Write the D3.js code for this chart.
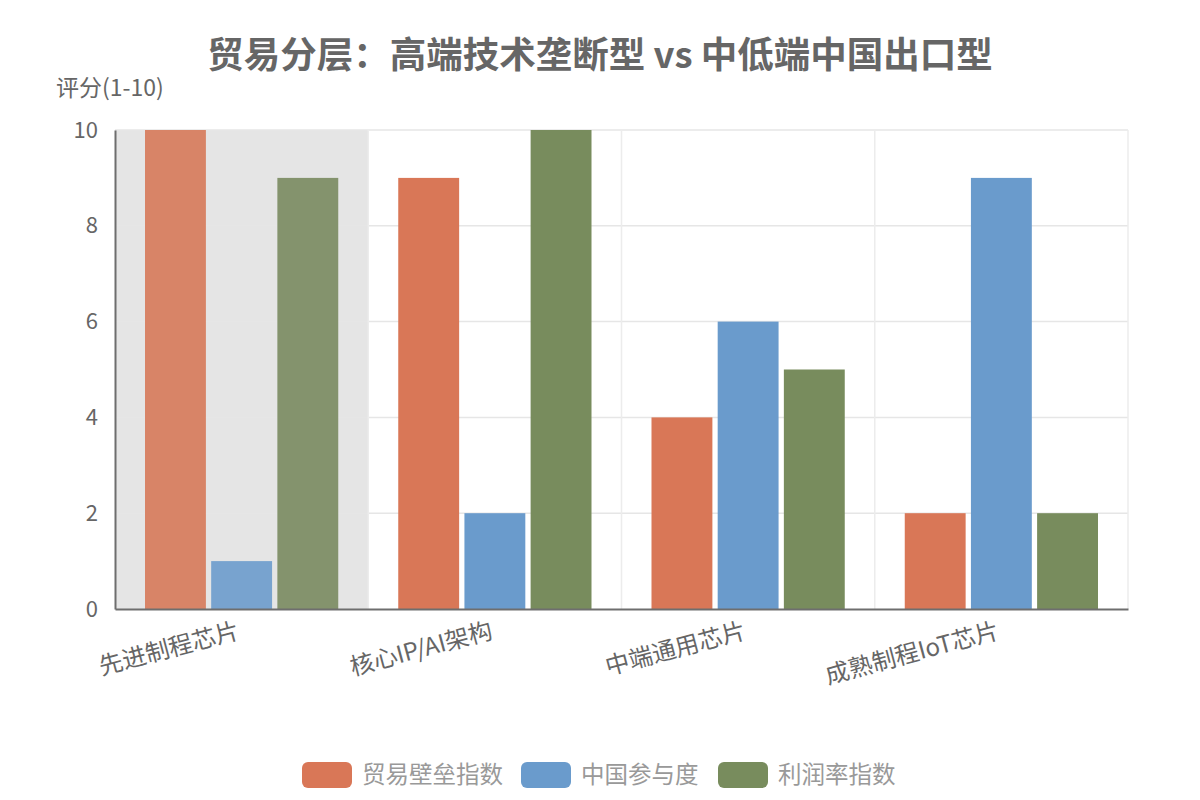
<!DOCTYPE html>
<html>
<head>
<meta charset="utf-8">
<script src="https://cdn.jsdelivr.net/npm/d3@7"></script>
<style>
  body { margin: 0; background: #fff; }
  svg { font-family: "Noto Sans CJK SC", "Noto Sans", sans-serif; }
</style>
</head>
<body>
<svg width="1200" height="800"></svg>
<script>
const categories = ["先进制程芯片", "核心IP/AI架构", "中端通用芯片", "成熟制程IoT芯片"];
const seriesNames = ["贸易壁垒指数", "中国参与度", "利润率指数"];
const barrier = [10, 9, 4, 2];
const china = [1, 2, 6, 9];
const profit = [9, 10, 5, 2];
const yTicks = [0, 2, 4, 6, 8, 10];

const colors = ["#d97757", "#6a9bcc", "#788c5d"];
const hoverColors = ["#d88467", "#78a3cf", "#84936d"];
const hovered = 0;

const svg = d3.select("svg"),
      margin = { left: 115, right: 72, top: 130, bottom: 191 },
      width = 1200 - margin.left - margin.right,
      height = 800 - margin.top - margin.bottom;

const values = [barrier, china, profit];
const rows = categories.map((c, i) => ({
    cat: c,
    i: i,
    vals: values.map((v, k) => ({ k: k, v: v[i] }))
}));

const x = d3.scaleBand().domain(categories).range([0, width]).paddingInner(0).paddingOuter(0);
const xs = d3.scaleBand().domain(d3.range(seriesNames.length))
    .range([30, x.bandwidth() - 30]).paddingInner(0.08);
const y = d3.scaleLinear().domain([0, 10]).range([height, 0]);

const g = svg.append("g").attr("transform", `translate(${margin.left},${margin.top})`);

// title
svg.append("text")
    .attr("x", 600).attr("y", 68)
    .attr("text-anchor", "middle")
    .attr("font-size", 36.5).attr("font-weight", "bold")
    .attr("fill", "#666")
    .text("贸易分层：高端技术垄断型 vs 中低端中国出口型");

// axis name
svg.append("text")
    .attr("x", 56).attr("y", 96)
    .attr("font-size", 23).attr("fill", "#666")
    .text("评分(1-10)");

// hover shadow
g.append("rect")
    .attr("x", x(categories[hovered]))
    .attr("y", 0)
    .attr("width", x.bandwidth())
    .attr("height", height)
    .attr("fill", "#e5e5e5");

// horizontal grid
g.selectAll(".hgrid")
    .data(yTicks.filter(t => t > 0))
    .join("line")
    .attr("class", "hgrid")
    .attr("x1", 0).attr("x2", width)
    .attr("y1", d => y(d)).attr("y2", d => y(d))
    .attr("stroke", "#e6e6e6")
    .attr("stroke-width", 1.5);

// vertical grid
g.selectAll(".vgrid")
    .data(categories)
    .join("line")
    .attr("class", "vgrid")
    .attr("x1", d => x(d) + x.bandwidth())
    .attr("x2", d => x(d) + x.bandwidth())
    .attr("y1", 0).attr("y2", height)
    .attr("stroke", "#ececec")
    .attr("stroke-width", 1.5);

// bars
const groups = g.selectAll(".grp")
    .data(rows)
    .join("g")
    .attr("class", "grp")
    .attr("transform", d => `translate(${x(d.cat)},0)`);

groups.selectAll("rect")
    .data(d => d.vals.map(v => ({ ...v, i: d.i })))
    .join("rect")
    .attr("x", d => xs(d.k))
    .attr("width", xs.bandwidth())
    .attr("y", d => y(d.v))
    .attr("height", d => y(0) - y(d.v))
    .attr("fill", d => d.i === hovered ? hoverColors[d.k] : colors[d.k]);

// y axis
const yAxis = g.append("g")
    .call(d3.axisLeft(y).tickValues(yTicks).tickSize(0).tickPadding(17));
yAxis.select(".domain").attr("stroke", "#6e6e6e").attr("stroke-width", 2);
yAxis.selectAll("text").attr("font-size", 22).attr("fill", "#666")
    .attr("font-family", "Noto Sans CJK SC, Noto Sans, sans-serif");

// x axis
const xAxis = g.append("g")
    .attr("transform", `translate(0,${height})`)
    .call(d3.axisBottom(x).tickSize(0));
xAxis.select(".domain").attr("stroke", "#6e6e6e").attr("stroke-width", 2);
xAxis.selectAll("text")
    .attr("font-size", 24).attr("fill", "#666")
    .attr("font-family", "Noto Sans CJK SC, Noto Sans, sans-serif")
    .attr("text-anchor", "end")
    .attr("y", 0).attr("dy", 0)
    .attr("transform", "translate(-1,29) rotate(-15)");

// legend
const legendX = [302, 521, 718];
const legend = svg.append("g");
seriesNames.forEach((name, k) => {
    legend.append("rect")
        .attr("x", legendX[k]).attr("y", 762)
        .attr("width", 50).attr("height", 26)
        .attr("rx", 6)
        .attr("fill", colors[k]);
    legend.append("text")
        .attr("x", legendX[k] + 60).attr("y", 783)
        .attr("font-size", 23.5).attr("fill", "#999")
        .text(name);
});
</script>
</body>
</html>
